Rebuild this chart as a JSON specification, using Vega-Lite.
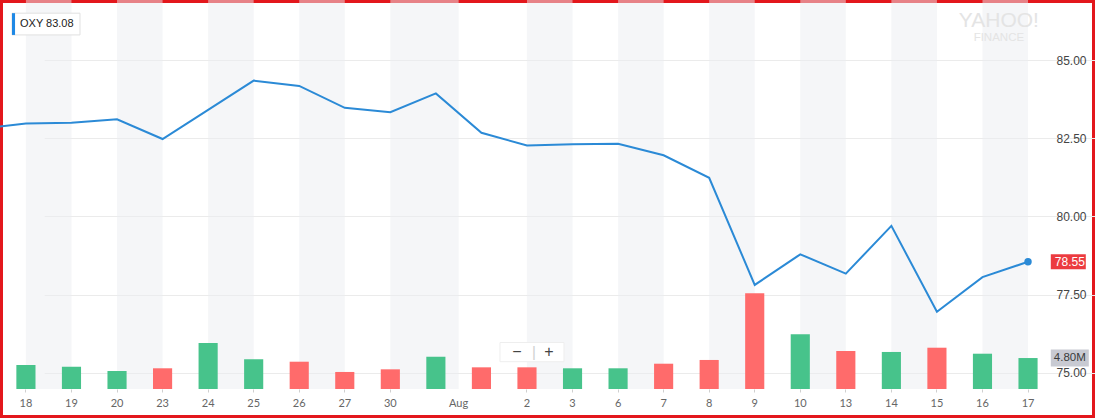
{
  "$schema": "https://vega.github.io/schema/vega-lite/v6.json",
  "width": 1095,
  "height": 418,
  "padding": 0,
  "autosize": {"type": "none"},
  "background": "#ffffff",
  "config": {
    "view": {"stroke": "#e3171c", "strokeWidth": 6},
    "text": {"font": "Liberation Sans"}
  },
  "datasets": {
    "prices": [
      {"date": "2018-07-17", "close": 82.81, "volume": null, "dir": null},
      {"date": "2018-07-18", "close": 82.98, "volume": 3720000, "dir": "up"},
      {"date": "2018-07-19", "close": 83.00, "volume": 3460000, "dir": "up"},
      {"date": "2018-07-20", "close": 83.11, "volume": 2790000, "dir": "up"},
      {"date": "2018-07-23", "close": 82.48, "volume": 3210000, "dir": "down"},
      {"date": "2018-07-24", "close": 83.41, "volume": 7130000, "dir": "up"},
      {"date": "2018-07-25", "close": 84.35, "volume": 4600000, "dir": "up"},
      {"date": "2018-07-26", "close": 84.18, "volume": 4230000, "dir": "down"},
      {"date": "2018-07-27", "close": 83.48, "volume": 2640000, "dir": "down"},
      {"date": "2018-07-30", "close": 83.34, "volume": 3050000, "dir": "down"},
      {"date": "2018-07-31", "close": 83.94, "volume": 5000000, "dir": "up"},
      {"date": "2018-08-01", "close": 82.68, "volume": 3360000, "dir": "down"},
      {"date": "2018-08-02", "close": 82.27, "volume": 3360000, "dir": "down"},
      {"date": "2018-08-03", "close": 82.31, "volume": 3210000, "dir": "up"},
      {"date": "2018-08-06", "close": 82.33, "volume": 3210000, "dir": "up"},
      {"date": "2018-08-07", "close": 81.96, "volume": 3920000, "dir": "down"},
      {"date": "2018-08-08", "close": 81.24, "volume": 4500000, "dir": "down"},
      {"date": "2018-08-09", "close": 77.81, "volume": 14830000, "dir": "down"},
      {"date": "2018-08-10", "close": 78.79, "volume": 8480000, "dir": "up"},
      {"date": "2018-08-13", "close": 78.17, "volume": 5890000, "dir": "down"},
      {"date": "2018-08-14", "close": 79.70, "volume": 5740000, "dir": "up"},
      {"date": "2018-08-15", "close": 76.95, "volume": 6400000, "dir": "down"},
      {"date": "2018-08-16", "close": 78.06, "volume": 5470000, "dir": "up"},
      {"date": "2018-08-17", "close": 78.55, "volume": 4800000, "dir": "up"}
    ],
    "stripes": [
      {"start": "2018-07-18", "end": "2018-07-19"},
      {"start": "2018-07-20", "end": "2018-07-23"},
      {"start": "2018-07-24", "end": "2018-07-25"},
      {"start": "2018-07-26", "end": "2018-07-27"},
      {"start": "2018-08-02", "end": "2018-08-03"},
      {"start": "2018-08-06", "end": "2018-08-07"},
      {"start": "2018-08-08", "end": "2018-08-09"},
      {"start": "2018-08-10", "end": "2018-08-13"},
      {"start": "2018-08-14", "end": "2018-08-15"},
      {"start": "2018-08-16", "end": "2018-08-17"}
    ]
  },
  "resolve": {"scale": {"y": "independent"}},
  "layer": [
    {
      "layer": [
        {
          "data": {"name": "stripes"},
          "mark": {"type": "rect", "fill": "#eceef1", "fillOpacity": 0.5},
          "encoding": {
            "x": {"field": "start", "type": "ordinal", "bandPosition": 0.5, "title": null,
                  "scale": {"type": "band", "domain": ["2018-07-17","2018-07-18","2018-07-19","2018-07-20","2018-07-23","2018-07-24","2018-07-25","2018-07-26","2018-07-27","2018-07-30","2018-07-31","2018-08-01","2018-08-02","2018-08-03","2018-08-06","2018-08-07","2018-08-08","2018-08-09","2018-08-10","2018-08-13","2018-08-14","2018-08-15","2018-08-16","2018-08-17"], "range": [-42.4, 1050.8], "paddingInner": 0, "paddingOuter": 0},
                  "axis": {"orient": "bottom", "offset": -29, "domain": false, "ticks": true, "tickSize": 3, "tickColor": "#cfcfcf",
                           "tickOpacity": {"condition": {"test": "datum.value == '2018-07-31' || datum.value == '2018-08-01'", "value": 0}, "value": 1},
                           "labelExpr": "datum.value == '2018-07-31' || datum.value == '2018-07-17' ? '' : (datum.value == '2018-08-01' ? 'Aug' : '' + toNumber(slice(datum.value, 8)))",
                           "labelOffset": {"condition": {"test": "datum.value == '2018-08-01'", "value": -22.8}, "value": 0},
                           "labelPadding": 5, "labelFont": "Lato", "labelFontSize": 11, "labelColor": "#666666", "labelAngle": 0, "grid": false, "title": null, "zindex": 1}},
            "x2": {"field": "end", "bandPosition": 0.5},
            "y": {"datum": 86.93, "type": "quantitative", "title": null,
                  "scale": {"domain": [73.55, 86.93], "nice": false, "zero": false},
                  "axis": {"orient": "right", "offset": -43, "values": [75, 77.5, 80, 82.5, 85], "format": ".2f", "domain": false, "ticks": false,
                           "labelPadding": 4, "labelFont": "Liberation Sans", "labelFontSize": 12, "labelColor": "#444444",
                           "grid": true, "gridColor": "#ebebeb", "title": null, "zindex": 0}},
            "y2": {"datum": 74.48}
          }
        },
        {
          "data": {"values": [{"start": "2018-07-30", "end": "2018-07-31"}]},
          "mark": {"type": "rect", "fill": "#eceef1", "fillOpacity": 0.5},
          "encoding": {
            "x": {"field": "start", "type": "ordinal", "bandPosition": 0.5, "title": null},
            "x2": {"field": "end", "bandPosition": 1},
            "y": {"datum": 86.93, "type": "quantitative", "title": null},
            "y2": {"datum": 74.48}
          }
        },
        {
          "data": {"name": "prices"},
          "mark": {"type": "line", "color": "#2b8ad6", "strokeWidth": 2, "clip": true},
          "encoding": {
            "x": {"field": "date", "type": "ordinal", "bandPosition": 0.5, "title": null},
            "y": {"field": "close", "type": "quantitative", "title": null}
          }
        },
        {
          "data": {"name": "prices"},
          "transform": [{"filter": "datum.date == '2018-08-17'"}],
          "mark": {"type": "point", "filled": true, "opacity": 1, "size": 55, "color": "#2b8ad6"},
          "encoding": {
            "x": {"field": "date", "type": "ordinal", "bandPosition": 0.5, "title": null},
            "y": {"field": "close", "type": "quantitative", "title": null}
          }
        },
        {
          "mark": {"type": "rule", "color": "#d9d9d9", "strokeWidth": 1},
          "encoding": {
            "x": {"datum": "2018-08-17", "type": "ordinal", "bandPosition": 1, "title": null},
            "y": {"datum": 86.93, "type": "quantitative", "title": null},
            "y2": {"datum": 74.48}
          }
        },
        {
          "data": {"values": [{"label": "OXY 83.08", "date": "2018-07-18", "price": 86.16}]},
          "layer": [
            {
              "mark": {"type": "point", "shape": "M0,-0.32H2V0.32H0Z", "size": 4624, "filled": true, "fill": "#ffffff", "stroke": "#e0e0e0", "strokeWidth": 1, "opacity": 1},
              "encoding": {
                "x": {"field": "date", "type": "ordinal", "bandPosition": 0.194, "title": null},
                "y": {"field": "price", "type": "quantitative", "title": null}
              }
            },
            {
              "mark": {"type": "point", "shape": "M0,-0.32H0.09V0.32H0Z", "size": 4624, "filled": true, "color": "#1e88e5", "opacity": 1},
              "encoding": {
                "x": {"field": "date", "type": "ordinal", "bandPosition": 0.194, "title": null},
                "y": {"field": "price", "type": "quantitative", "title": null}
              }
            },
            {
              "mark": {"type": "text", "align": "left", "baseline": "middle", "dx": 8, "fontSize": 11, "color": "#222222"},
              "encoding": {
                "x": {"field": "date", "type": "ordinal", "bandPosition": 0.194, "title": null},
                "y": {"field": "price", "type": "quantitative", "title": null},
                "text": {"field": "label"}
              }
            }
          ]
        },
        {
          "data": {"values": [{"label": "YAHOO!", "date": "2018-08-16", "price": 86.26}]},
          "mark": {"type": "text", "align": "center", "baseline": "middle", "fontSize": 21, "color": "#e4e4e4"},
          "encoding": {
            "x": {"field": "date", "type": "ordinal", "bandPosition": 0.86, "title": null},
            "y": {"field": "price", "type": "quantitative", "title": null},
            "text": {"field": "label"}
          }
        },
        {
          "data": {"values": [{"label": "FINANCE", "date": "2018-08-16", "price": 85.71}]},
          "mark": {"type": "text", "align": "center", "baseline": "middle", "fontSize": 11.5, "color": "#e4e4e4"},
          "encoding": {
            "x": {"field": "date", "type": "ordinal", "bandPosition": 0.86, "title": null},
            "y": {"field": "price", "type": "quantitative", "title": null},
            "text": {"field": "label"}
          }
        },
        {
          "data": {"values": [{"date": "2018-08-02", "price": 75.66}]},
          "layer": [
            {
              "mark": {"type": "point", "shape": "M-1,-0.3H1V0.3H-1Z", "size": 4096, "filled": true, "fill": "#ffffff", "stroke": "#eeeeee", "strokeWidth": 1, "opacity": 1},
              "encoding": {
                "x": {"field": "date", "type": "ordinal", "bandPosition": 0.61, "title": null},
                "y": {"field": "price", "type": "quantitative", "title": null}
              }
            },
            {
              "mark": {"type": "text", "align": "center", "baseline": "middle", "dx": -15, "fontSize": 16, "color": "#444444", "text": "−"},
              "encoding": {
                "x": {"field": "date", "type": "ordinal", "bandPosition": 0.61, "title": null},
                "y": {"field": "price", "type": "quantitative", "title": null}
              }
            },
            {
              "mark": {"type": "text", "align": "center", "baseline": "middle", "dx": 2, "fontSize": 15, "color": "#d0d0d0", "text": "|"},
              "encoding": {
                "x": {"field": "date", "type": "ordinal", "bandPosition": 0.61, "title": null},
                "y": {"field": "price", "type": "quantitative", "title": null}
              }
            },
            {
              "mark": {"type": "text", "align": "center", "baseline": "middle", "dx": 17, "fontSize": 16, "color": "#444444", "text": "+"},
              "encoding": {
                "x": {"field": "date", "type": "ordinal", "bandPosition": 0.61, "title": null},
                "y": {"field": "price", "type": "quantitative", "title": null}
              }
            }
          ]
        },
        {
          "data": {"name": "prices"},
          "transform": [{"filter": "datum.date == '2018-08-17'"}],
          "layer": [
            {
              "mark": {"type": "point", "shape": "M0,-0.43H2V0.43H0Z", "size": 1225, "filled": true, "color": "#ec3b40", "opacity": 1},
              "encoding": {
                "x": {"field": "date", "type": "ordinal", "bandPosition": 1, "title": null},
                "y": {"field": "close", "type": "quantitative", "title": null}
              }
            },
            {
              "mark": {"type": "text", "align": "left", "baseline": "middle", "dx": 4, "fontSize": 12, "color": "#ffffff"},
              "encoding": {
                "x": {"field": "date", "type": "ordinal", "bandPosition": 1, "title": null},
                "y": {"field": "close", "type": "quantitative", "title": null},
                "text": {"field": "close", "type": "quantitative", "format": ".2f"}
              }
            }
          ]
        }
      ]
    },
    {
      "layer": [
        {
          "data": {"name": "prices"},
          "transform": [{"filter": "isValid(datum.volume)"}],
          "mark": {"type": "bar", "width": {"band": 0.42}},
          "encoding": {
            "x": {"field": "date", "type": "ordinal", "title": null},
            "y": {"field": "volume", "type": "quantitative", "title": null, "axis": null,
                  "scale": {"domain": [-4495000, 60295000], "nice": false, "zero": false}},
            "color": {"field": "dir", "type": "nominal", "legend": null,
                      "scale": {"domain": ["up", "down"], "range": ["#47c38b", "#ff6b6b"]}}
          }
        },
        {
          "mark": {"type": "rule", "color": "#d4d4d4", "strokeWidth": 1},
          "encoding": {
            "x": {"datum": "2018-07-17", "type": "ordinal", "bandPosition": 0.9, "title": null},
            "x2": {"datum": "2018-08-17", "bandPosition": 1},
            "y": {"datum": 0, "type": "quantitative", "axis": null, "title": null}
          }
        },
        {
          "data": {"values": [{"date": "2018-08-17", "volume": 4800000, "label": "4.80M"}]},
          "layer": [
            {
              "mark": {"type": "point", "shape": "M0,-0.45H2V0.45H0Z", "size": 1444, "filled": true, "color": "#c8cad2", "opacity": 1},
              "encoding": {
                "x": {"field": "date", "type": "ordinal", "bandPosition": 1, "title": null},
                "y": {"field": "volume", "type": "quantitative", "axis": null, "title": null}
              }
            },
            {
              "mark": {"type": "text", "align": "left", "baseline": "middle", "dx": 3, "fontSize": 11.5, "color": "#3a3a3a"},
              "encoding": {
                "x": {"field": "date", "type": "ordinal", "bandPosition": 1, "title": null},
                "y": {"field": "volume", "type": "quantitative", "axis": null, "title": null},
                "text": {"field": "label"}
              }
            }
          ]
        }
      ]
    }
  ]
}
